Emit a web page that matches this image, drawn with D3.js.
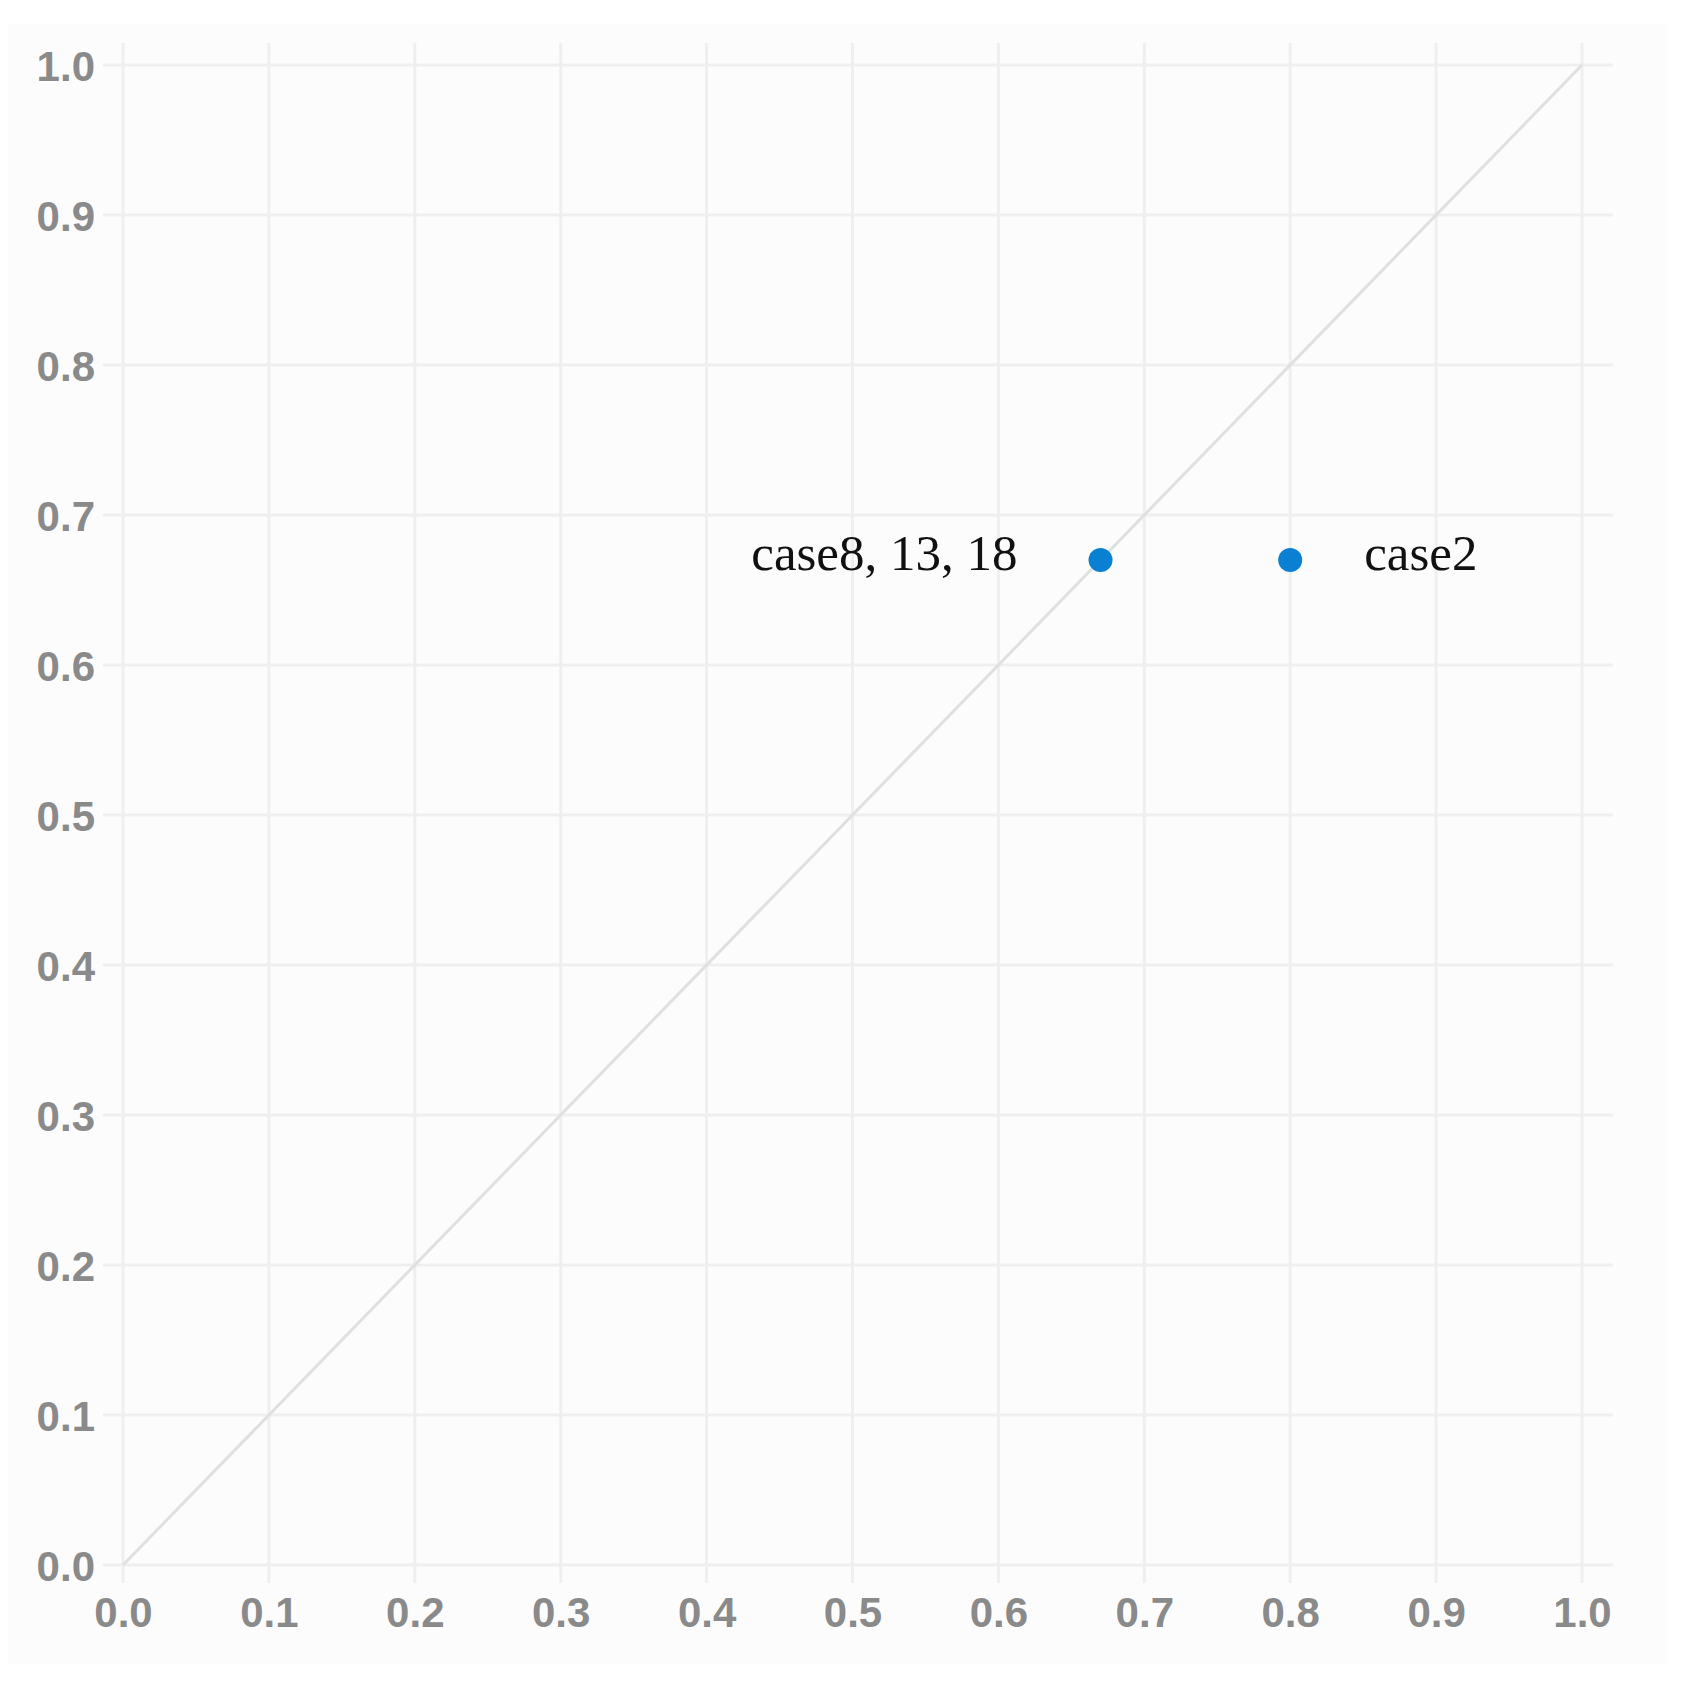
<!DOCTYPE html>
<html><head><meta charset="utf-8">
<script src="https://cdn.jsdelivr.net/npm/d3@7"></script>
<style>html,body{margin:0;padding:0;background:#fff;}</style>
</head><body>
<svg id="chart" width="1686" height="1682"></svg>
<script>
const tickValues = [0,0.1,0.2,0.3,0.4,0.5,0.6,0.7,0.8,0.9,1.0];
const pointLabels = ["case8, 13, 18", "case2"];
const pointX = [0.67, 0.80];
const pointY = [0.67, 0.67];
const labelSide = ["left", "right"];
const diagonal = [[0,0],[1,1]];

const svg = d3.select("#chart");
svg.append("rect").attr("x",8).attr("y",24).attr("width",1660).attr("height",1640).attr("fill","#fcfcfc");

const x = d3.scaleLinear().domain([0,1]).range([123,1582]);
const y = d3.scaleLinear().domain([0,1]).range([1565,65]);

const grid = svg.append("g");
grid.selectAll("line.v").data(tickValues).join("line")
  .attr("x1",d=>x(d)).attr("x2",d=>x(d)).attr("y1",43).attr("y2",1583)
  .attr("stroke","#efefef").attr("stroke-width",3);
grid.selectAll("line.h").data(tickValues).join("line")
  .attr("y1",d=>y(d)).attr("y2",d=>y(d)).attr("x1",103).attr("x2",1613)
  .attr("stroke","#efefef").attr("stroke-width",3);

const xAxis = d3.axisBottom(x).tickValues(tickValues).tickFormat(d3.format(".1f")).tickSize(0).tickPadding(0);
const gx = svg.append("g").attr("transform","translate(0,1597)").call(xAxis);
gx.select(".domain").remove();
gx.selectAll("text").attr("dy","0.71em").attr("font-family","Liberation Sans, Arial, sans-serif")
  .attr("font-size",42).attr("font-weight","bold").attr("fill","#8a8a8a");

const yAxis = d3.axisLeft(y).tickValues(tickValues).tickFormat(d3.format(".1f")).tickSize(0).tickPadding(0);
const gy = svg.append("g").attr("transform","translate(95,0)").call(yAxis);
gy.select(".domain").remove();
gy.selectAll("text").attr("dy","0.36em").attr("font-family","Liberation Sans, Arial, sans-serif")
  .attr("font-size",42).attr("font-weight","bold").attr("fill","#8a8a8a");

svg.append("path").datum(diagonal)
  .attr("d", d3.line().x(d=>x(d[0])).y(d=>y(d[1])))
  .attr("stroke","#e0e0e0").attr("stroke-width",3).attr("fill","none");

const pts = pointX.map((v,i)=>({x:v,y:pointY[i],label:pointLabels[i],side:labelSide[i]}));
svg.selectAll("circle.pt").data(pts).join("circle")
  .attr("cx",d=>x(d.x)).attr("cy",d=>y(d.y)).attr("r",12).attr("fill","#0a80d2");
svg.selectAll("text.lbl").data(pts).join("text")
  .attr("x",d=>d.side==="left"? x(d.x)-83 : x(d.x)+74)
  .attr("y",d=>y(d.y)+10)
  .attr("text-anchor",d=>d.side==="left"?"end":"start")
  .attr("font-family","Liberation Serif, Times New Roman, serif")
  .attr("font-size",51).attr("fill","#111")
  .text(d=>d.label);
</script>
</body></html>
